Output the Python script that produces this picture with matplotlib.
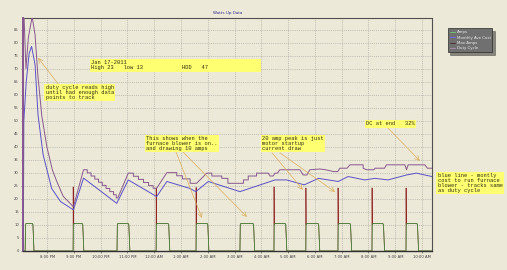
"""Watts Up furnace blower log: amps, max amps, duty cycle and monthly cost."""

import matplotlib

matplotlib.use("Agg")
import matplotlib.pyplot as plt
from matplotlib.lines import Line2D
from matplotlib.ticker import MultipleLocator

# ── data (time in hours, 20 = 8:00 PM, 24 = midnight) ─────────────────────────
tick_hours = list(range(20, 35))
tick_labels = [
    "8:00 PM", "9:00 PM", "10:00 PM", "11:00 PM", "12:00 AM", "1:00 AM",
    "2:00 AM", "3:00 AM", "4:00 AM", "5:00 AM", "6:00 AM", "7:00 AM",
    "8:00 AM", "9:00 AM", "10:00 AM",
]

# blower on / off times and startup peak (0 = no peak logged)
cycle_on = [19.18, 20.97, 22.61, 24.07, 25.56, 27.20, 28.47, 29.66, 30.86, 32.13, 33.40]
cycle_off = [19.48, 21.34, 23.06, 24.55, 26.01, 27.72, 28.92, 30.15, 31.34, 32.57, 33.84]
cycle_peak = [0, 24.6, 0, 24.2, 24.4, 0, 24.6, 24.2, 24.2, 24.2, 24.2]
run_amps = 10.6

duty_h = [
    19.11, 19.12, 19.21, 19.30, 19.44, 19.55, 19.65, 19.80, 19.99, 20.20, 20.37, 20.60, 20.98,
    21.36, 21.50, 21.50, 21.64, 21.64, 21.78, 21.78, 21.92, 21.92, 22.06, 22.06, 22.20,
    22.20, 22.34, 22.34, 22.48, 22.48, 22.58, 22.58, 22.64,
    23.03, 23.22, 23.22, 23.41, 23.41, 23.60, 23.60, 23.79, 23.79, 23.96, 23.96, 24.09,
    24.47, 24.84, 24.84, 25.05, 25.05, 25.34, 25.34, 25.58,
    25.96, 26.15, 26.15, 26.52, 26.52, 26.75, 26.75, 27.33, 27.33, 27.51, 27.51, 27.82,
    27.82, 28.26, 28.32, 28.44, 28.51, 28.60, 28.69, 29.44, 29.56, 29.70, 29.81, 30.19,
    30.40, 30.70, 30.85, 30.93, 31.20, 31.31, 31.80, 31.80, 31.93, 32.20, 32.24, 32.60,
    32.67, 33.36, 33.42, 33.48, 34.10, 34.20, 34.37,
]
duty_v = [
    0, 95, 70, 82, 90, 83, 68, 52, 40, 31, 26.5, 21, 17.0,
    31.2, 31.2, 30.0, 30.0, 28.8, 28.8, 27.6, 27.6, 26.4, 26.4, 25.2, 25.2,
    24.0, 24.0, 22.8, 22.8, 21.6, 21.6, 20.4, 20.4,
    29.9, 29.9, 28.7, 28.7, 27.5, 27.5, 26.3, 26.3, 25.1, 25.1, 24.1, 24.1,
    30.1, 30.1, 28.9, 28.9, 27.7, 27.7, 26.0, 26.0,
    29.9, 29.9, 28.8, 28.8, 27.9, 27.9, 26.0, 26.0, 27.3, 27.3, 28.8, 28.8,
    29.9, 29.9, 28.8, 28.8, 29.9, 29.9, 31.2, 31.2, 29.2, 29.2, 31.2, 31.5,
    31.2, 30.5, 30.5, 31.8, 31.8, 33.1, 33.1, 31.8, 31.2, 31.2, 31.8, 31.8,
    33.1, 33.1, 31.2, 33.1, 33.1, 31.8, 31.8,
]

cost_h = [
    19.11, 19.13, 19.22, 19.33, 19.42, 19.55, 19.66, 19.85, 20.17, 20.50, 20.98,
    21.36, 22.60, 23.03, 24.09, 24.47, 25.34, 25.55, 26.02, 27.20, 28.51, 28.94,
    29.60, 30.13, 30.87, 31.24, 31.86, 32.24, 32.73, 33.42, 33.79, 34.37,
]
cost_v = [
    0, 50, 65, 76, 78.6, 71.5, 52.3, 37, 24, 19, 15.8,
    28.0, 18.3, 27.3, 20.9, 26.7, 24.0, 22.8, 26.7, 22.8, 27.3, 27.3,
    25.4, 27.9, 26.7, 28.6, 27.3, 27.9, 27.3, 29.2, 29.9, 28.6,
]

BG = "#ECE9D8"
C_AMPS = "#3f8f3f"
C_MAX = "#8e2424"
C_DUTY = "#87578e"
C_COST = "#5a50c8"
C_ARROW = "#dcae5c"
C_NOTE = "#ffff72"


def _cycle_series(with_peak: bool) -> tuple[list[float], list[float]]:
    """Turn on/off times into a rounded plateau trace."""
    xs, ys = [19.10], [0.0]
    for on, off, peak in zip(cycle_on, cycle_off, cycle_peak):
        if with_peak and peak:
            xs += [on, on + 0.004, on + 0.012, on + 0.04]
            ys += [0.0, peak, run_amps - 0.4, run_amps]
        else:
            xs += [on, on + 0.012, on + 0.04]
            ys += [0.0, run_amps - 0.4, run_amps]
        xs += [off - 0.04, off - 0.01, off + 0.03]
        ys += [run_amps, run_amps - 0.5, 0.0]
    xs.append(34.37)
    ys.append(0.0)
    return xs, ys


fig = plt.figure(figsize=(5.07, 2.70), dpi=100, facecolor=BG)
ax = fig.add_axes([0.0454, 0.0704, 0.8066, 0.8630], facecolor=BG)

amps_x, amps_y = _cycle_series(False)
max_x, max_y = _cycle_series(True)
ax.plot(max_x, max_y, color=C_MAX, lw=0.5, zorder=3)
ax.plot(amps_x, amps_y, color=C_AMPS, lw=0.55, zorder=3)
ax.plot(cost_h, cost_v, color=C_COST, lw=0.7, zorder=4)
ax.plot(duty_h, duty_v, color=C_DUTY, lw=0.7, zorder=4)

ax.set_xlim(19.10, 34.37)
ax.set_ylim(0, 89.5)
ax.set_xticks(tick_hours)
ax.set_xticklabels(tick_labels)
ax.set_yticks(range(0, 90, 5))
ax.xaxis.set_minor_locator(MultipleLocator(1 / 6))
ax.tick_params(axis="both", labelsize=2.7, colors="#404040", length=1.5, width=0.4, pad=1.5)
ax.tick_params(axis="x", which="minor", length=0.8, width=0.3, colors="#404040")
ax.grid(True, color="#a8a8a0", lw=0.45, ls=(0, (1.5, 1.5)))
for side in ("top", "right"):
    ax.spines[side].set_color("#505050")
    ax.spines[side].set_linewidth(0.8)
ax.spines["bottom"].set_color("#303030")
ax.spines["bottom"].set_linewidth(1.0)
ax.spines["left"].set_color(C_DUTY)
ax.spines["left"].set_linewidth(1.4)

ax.set_title("Watts Up Data", fontsize=2.9, color="#2b2b8c", pad=3)

# ── notes ─────────────────────────────────────────────────────────────────────
note_kw = dict(
    family="Liberation Mono",
    fontsize=3.9,
    linespacing=1.0,
    color="#303010",
    ha="left",
    va="top",
    zorder=6,
    bbox=dict(boxstyle="square,pad=0.25", fc=C_NOTE, ec="none"),
)
arrow_kw = dict(arrowstyle="->", color=C_ARROW, lw=0.5, mutation_scale=8, shrinkA=0, shrinkB=0)

ax.text(21.64, 73.3,
        "Jan 17-2011\nHigh 23   low 13            HDD   47                ",
        **note_kw)
ax.text(19.95, 63.8, "duty cycle reads high\nuntil had enough data\npoints to track", **note_kw)
ax.text(23.70, 44.2, "This shows when the\nfurnace blower is on..\nand drawing 10 amps", **note_kw)
ax.text(28.02, 44.2, "20 amp peak is just\nmotor startup\ncurrent draw", **note_kw)
ax.text(31.92, 49.8, "DC at end   32%", **note_kw)
ax.text(34.58, 30.0,
        "blue line - montly\ncost to run furnace\nblower - tracks same\nas duty cycle",
        clip_on=False, **note_kw)

arrows = [
    ((20.41, 64.2), (19.66, 74.2)),
    ((24.81, 38.1), (25.78, 12.7)),
    ((25.07, 38.1), (27.46, 13.1)),
    ((28.40, 37.7), (29.55, 23.5)),
    ((28.69, 37.7), (30.75, 22.7)),
    ((32.72, 47.3), (33.92, 34.6)),
]
for start, end in arrows:
    ax.annotate("", xy=end, xytext=start, arrowprops=arrow_kw, zorder=5)

# ── legend ────────────────────────────────────────────────────────────────────
handles = [
    Line2D([], [], color="#6fcf6f", lw=0.6, label="Amps"),
    Line2D([], [], color="#6f66ff", lw=0.6, label="Monthly Ave Cost"),
    Line2D([], [], color="#4a2a2a", lw=0.6, label="Max Amps"),
    Line2D([], [], color="#b08fb8", lw=0.6, label="Duty Cycle"),
]
leg = fig.legend(
    handles=handles,
    loc="upper left",
    bbox_to_anchor=(0.879, 0.902),
    fontsize=2.8,
    labelcolor="#ececec",
    facecolor="#707070",
    edgecolor="#2a2a2a",
    framealpha=1,
    fancybox=False,
    shadow=True,
    handlelength=1.4,
    handletextpad=0.4,
    borderpad=0.5,
    labelspacing=0.35,
)
leg.get_frame().set_linewidth(0.5)

fig.savefig("out.png", dpi=100, facecolor=BG)
